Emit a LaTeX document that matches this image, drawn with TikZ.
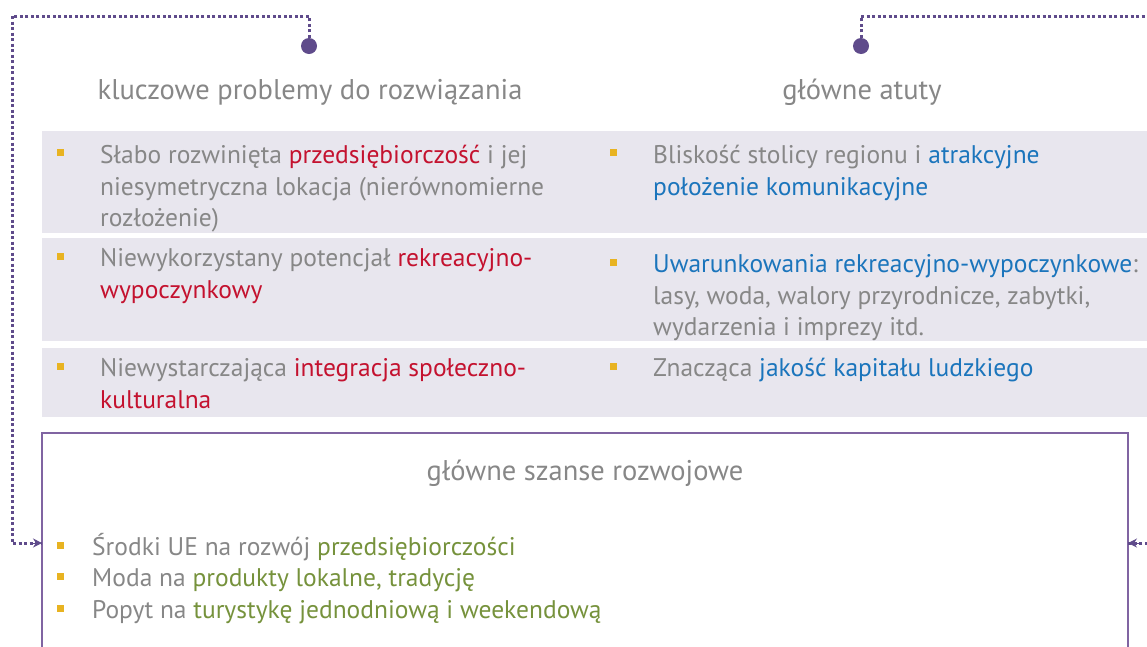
\documentclass[tikz,border=0pt]{standalone}
\usepackage{fontspec}
\setmainfont{PT Sans}
\usetikzlibrary{arrows.meta}
\definecolor{txt}{HTML}{878787}
\definecolor{cRed}{HTML}{C4122F}
\definecolor{cBlue}{HTML}{1B75BC}
\definecolor{cGreen}{HTML}{76923C}
\definecolor{cBul}{HTML}{E8B321}
\definecolor{cBand}{HTML}{E8E6EE}
\definecolor{cPurp}{HTML}{5F4B8B}
\definecolor{cBox}{HTML}{8064A2}
\newcommand{\rd}[1]{\textcolor{cRed}{#1}}
\newcommand{\bl}[1]{\textcolor{cBlue}{#1}}
\newcommand{\gr}[1]{\textcolor{cGreen}{#1}}
\begin{document}
\begin{tikzpicture}[x=1pt,y=-1pt,
  body/.style={font=\fontsize{25.5}{32}\selectfont, text=txt, anchor=base west, inner sep=0pt},
  head/.style={font=\fontsize{28.5}{34}\selectfont, text=txt, anchor=base, inner sep=0pt},
  bul/.style={fill=cBul, minimum size=7pt, inner sep=0pt},
  band/.style={fill=cBand, draw=none},
  dotc/.style={circle, fill=cPurp, minimum size=16pt, inner sep=0pt},
  conn/.style={draw=cPurp, line width=3pt, dash pattern=on 3pt off 2.5pt},
  tip/.style={-{Stealth[length=9pt,width=9pt]}}
]
\useasboundingbox (0,0) rectangle (1147,646);
\clip (0,0) rectangle (1147,646);

% bands
\path[band] (42,131) rectangle (1160,233);
\path[band] (42,238) rectangle (1160,341);
\path[band] (42,348) rectangle (1160,417);

% box
\draw[cBox, line width=2.5pt] (42,680) -- (42,433) -- (1128,433) -- (1128,680);
\coordinate (boxL) at (42,543);
\coordinate (boxR) at (1128,543);

% headings
\node[head] (h1) at (310,99) {kluczowe problemy do rozwiązania};
\node[head] (h2) at (862,99) {główne atuty};
\node[head] (h3) at (585,480) {główne szanse rozwojowe};

% connector dots
\node[dotc] (d1) at (309,46) {};
\node[dotc] (d2) at (861,46) {};
\coordinate (c1) at (309,16);
\coordinate (c2) at (12,16);
\coordinate (c3) at (12,543);
\coordinate (e1) at (861,16);
\coordinate (e2) at (1170,16);
\coordinate (e3) at (1170,543);
\draw[conn] (d1) -- (c1) -- (c2) -- (c3) -- (boxL);
\draw[conn] (d2) -- (e1) -- (e2) -- (e3) -- (boxR);
\draw[cPurp, line width=1pt, tip] (30,543) -- (boxL);
\draw[cPurp, line width=1pt, tip] (1140,543) -- (boxR);

% left column
\node[bul] (b1) at (60,152) {};
\node[body] (t11) at (100,163) {Słabo rozwinięta \rd{przedsiębiorczość} i jej};
\node[body] (t12) at (100,195) {niesymetryczna lokacja (nierównomierne};
\node[body] (t13) at (100,226) {rozłożenie)};
\node[bul] (b2) at (60,256) {};
\node[body] (t21) at (100,266) {Niewykorzystany potencjał \rd{rekreacyjno-}};
\node[body] (t22) at (100,298) {\rd{wypoczynkowy}};
\node[bul] (b3) at (60,366) {};
\node[body] (t31) at (100,376) {Niewystarczająca \rd{integracja społeczno-}};
\node[body] (t32) at (100,408) {\rd{kulturalna}};

% right column
\node[bul] (r1) at (613,152) {};
\node[body] (u11) at (653,163) {Bliskość stolicy regionu i \bl{atrakcyjne}};
\node[body] (u12) at (653,195) {\bl{położenie komunikacyjne}};
\node[bul] (r2) at (613,262) {};
\node[body] (u21) at (653,272) {\bl{Uwarunkowania rekreacyjno-wypoczynkowe}:};
\node[body] (u22) at (653,304) {lasy, woda, walory przyrodnicze, zabytki,};
\node[body] (u23) at (653,335) {wydarzenia i imprezy itd.};
\node[bul] (r3) at (613,366) {};
\node[body] (u31) at (653,376) {Znacząca \bl{jakość kapitału ludzkiego}};

% opportunities
\node[bul] (s1) at (60,545) {};
\node[body] (v1) at (92,555) {Środki UE na rozwój \gr{przedsiębiorczości}};
\node[bul] (s2) at (60,576) {};
\node[body] (v2) at (92,586) {Moda na \gr{produkty lokalne, tradycję}};
\node[bul] (s3) at (60,608) {};
\node[body] (v3) at (92,618) {Popyt na \gr{turystykę jednodniową i weekendową}};
\end{tikzpicture}
\end{document}
